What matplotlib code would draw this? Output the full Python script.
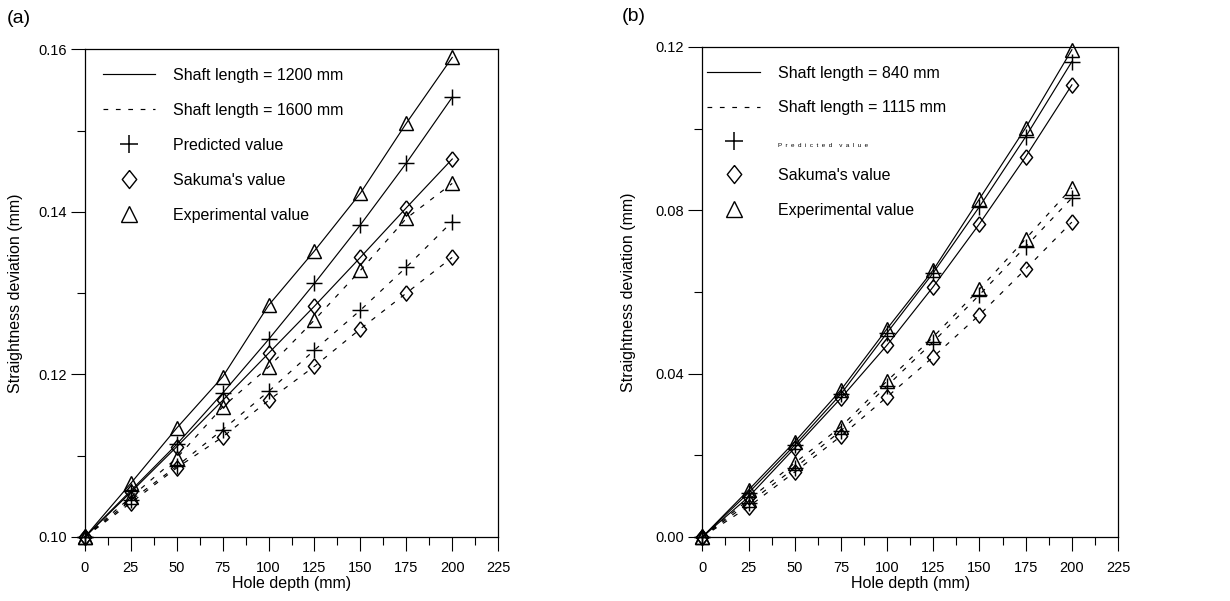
import matplotlib
matplotlib.use('Agg')
import matplotlib.pyplot as plt
from matplotlib.lines import Line2D
from matplotlib.ticker import MultipleLocator, FormatStrFormatter

plt.rcParams['font.family'] = ['Liberation Sans', 'DejaVu Sans']

depth = [0, 25, 50, 75, 100, 125, 150, 175, 200]

# panel (a)
pred_1200 = [0.100, 0.1057, 0.1114, 0.1177, 0.1243, 0.1312, 0.1384, 0.1460, 0.1541]
sak_1200 = [0.100, 0.1055, 0.1111, 0.1168, 0.1226, 0.1284, 0.1344, 0.1405, 0.1465]
exp_1200 = [0.100, 0.1066, 0.1134, 0.1197, 0.1285, 0.1352, 0.1423, 0.1509, 0.1590]
pred_1600 = [0.100, 0.1045, 0.1087, 0.1132, 0.1179, 0.1230, 0.1279, 0.1332, 0.1388]
sak_1600 = [0.100, 0.1042, 0.1085, 0.1123, 0.1168, 0.1210, 0.1256, 0.1300, 0.1344]
exp_1600 = [0.100, 0.1049, 0.1097, 0.1160, 0.1209, 0.1267, 0.1328, 0.1392, 0.1435]

# panel (b)
pred_840 = [0.0, 0.0108, 0.0225, 0.0350, 0.0500, 0.0647, 0.0809, 0.0980, 0.1164]
sak_840 = [0.0, 0.0098, 0.0218, 0.0340, 0.0470, 0.0613, 0.0767, 0.0931, 0.1107]
exp_840 = [0.0, 0.0115, 0.0233, 0.0360, 0.0510, 0.0654, 0.0828, 0.1002, 0.1193]
pred_1115 = [0.0, 0.0083, 0.0169, 0.0260, 0.0370, 0.0478, 0.0593, 0.0711, 0.0830]
sak_1115 = [0.0, 0.0074, 0.0159, 0.0247, 0.0343, 0.0441, 0.0544, 0.0656, 0.0771]
exp_1115 = [0.0, 0.0091, 0.0181, 0.0270, 0.0382, 0.0490, 0.0607, 0.0730, 0.0855]

DIAMOND = [(0, 1), (0.8, 0), (0, -1), (-0.8, 0), (0, 1)]
DASH = (0, (4.0, 6.5))
MARKERS = {'pred': ('+', 11.5), 'sak': (DIAMOND, 11), 'exp': ('^', 10)}


def draw_panel(ax, series, ylim, ymajor, labels, tag, ylabelpad):
    for kind, values, ls in series:
        m, ms = MARKERS[kind]
        ax.plot(depth, values, color='black', lw=0.85, ls=ls, marker=m,
                markersize=ms, markeredgewidth=1.05, fillstyle='none',
                markeredgecolor='black', clip_on=False)
    ax.set_xlim(0, 225)
    ax.set_ylim(*ylim)
    ax.xaxis.set_major_locator(MultipleLocator(25))
    ax.xaxis.set_minor_locator(MultipleLocator(12.5))
    ax.yaxis.set_major_locator(MultipleLocator(ymajor))
    ax.yaxis.set_minor_locator(MultipleLocator(ymajor / 2))
    ax.yaxis.set_major_formatter(FormatStrFormatter('%.2f'))
    ax.tick_params(which='major', direction='out', length=10, width=0.8,
                   labelsize=10.5)
    ax.tick_params(axis='x', which='major', pad=7)
    ax.tick_params(axis='y', which='major', pad=3)
    ax.tick_params(which='minor', direction='out', length=6, width=0.8)
    ax.set_xlabel('Hole depth (mm)', fontsize=11.5, labelpad=1)
    ax.set_ylabel('Straightness deviation (mm)', fontsize=11.5,
                  labelpad=ylabelpad)
    for sp in ax.spines.values():
        sp.set_linewidth(0.9)

    handles = [
        Line2D([], [], color='black', lw=0.85),
        Line2D([], [], color='black', lw=0.85, ls=DASH),
        Line2D([], [], ls='none', marker='+', color='black', markersize=12.5,
               markeredgewidth=1.1),
        Line2D([], [], ls='none', marker=DIAMOND, color='black',
               markersize=13, fillstyle='none', markeredgewidth=1.0),
        Line2D([], [], ls='none', marker='^', color='black', markersize=12,
               fillstyle='none', markeredgewidth=1.0),
    ]
    leg = ax.legend(handles, labels, loc='upper left', frameon=False,
                    fontsize=11.5, handlelength=3.3, handletextpad=1.1,
                    labelspacing=1.25, borderpad=0, borderaxespad=0,
                    bbox_to_anchor=tag[1])
    ax.text(tag[2], 1.045, tag[0], transform=ax.transAxes, fontsize=14,
            ha='left', va='bottom')
    return leg


fig = plt.figure(figsize=(12.3, 6.01), dpi=100)
ax1 = fig.add_axes([0.069, 0.1065, 0.336, 0.8115])
ax2 = fig.add_axes([0.571, 0.1065, 0.338, 0.8155])

draw_panel(ax1,
           [('pred', pred_1200, '-'), ('sak', sak_1200, '-'),
            ('exp', exp_1200, '-'), ('pred', pred_1600, DASH),
            ('sak', sak_1600, DASH), ('exp', exp_1600, DASH)],
           (0.10, 0.16), 0.02,
           ['Shaft length = 1200 mm', 'Shaft length = 1600 mm',
            'Predicted value', "Sakuma's value", 'Experimental value'],
           ('(a)', (0.043, 0.962), -0.188), 11)

leg2 = draw_panel(ax2,
                  [('pred', pred_840, '-'), ('sak', sak_840, '-'),
                   ('exp', exp_840, '-'), ('pred', pred_1115, DASH),
                   ('sak', sak_1115, DASH), ('exp', exp_1115, DASH)],
                  (0.0, 0.12), 0.04,
                  ['Shaft length = 840 mm', 'Shaft length = 1115 mm',
                   'P  r  e  d  i  c  t  e  d    v  a  l  u  e',
                   "Sakuma's value", 'Experimental value'],
                  ('(b)', (0.012, 0.962), -0.193), 14)
tiny = leg2.get_texts()[2]
tiny.set_fontsize(4.5)

fig.savefig('out.png', dpi=100)
